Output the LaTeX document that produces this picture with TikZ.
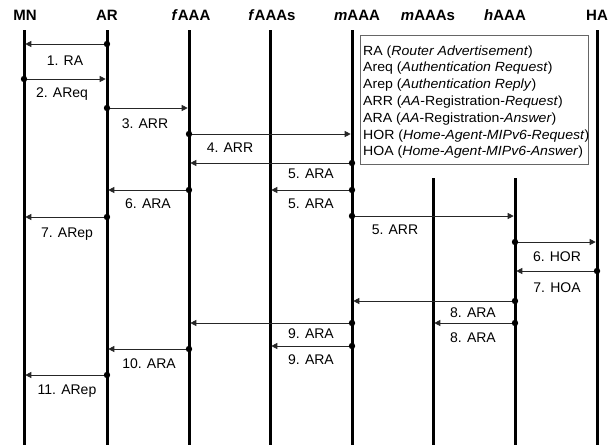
\documentclass[tikz,border=0pt]{standalone}
\usepackage{fontspec}
\setmainfont{Liberation Sans}
\newfontfamily\legfont{Liberation Sans}[FakeStretch=1.06]
\usetikzlibrary{arrows.meta}
\begin{document}
\begin{tikzpicture}[x=1pt,y=-1pt,
  life/.style={line width=3pt},
  msg/.style={line width=0.8pt,draw=black!85,-{Triangle[length=6pt,width=6pt]},shorten >=1.3pt},
  dotc/.style={fill=black},
  lbl/.style={font=\fontsize{14}{15}\selectfont,inner sep=0pt},
  hdr/.style={font=\fontsize{15}{16}\selectfont\bfseries,inner sep=0pt},
  legtext/.style={font=\legfont\fontsize{13.3}{14}\selectfont,inner sep=0pt,anchor=base west},
  legend/.style={draw=black!60,fill=white,line width=0.8pt}]
\useasboundingbox (0,0) rectangle (609,445);
% lifelines
\coordinate (MN) at (24,30);
\coordinate (AR) at (107,30);
\coordinate (fA) at (189,30);
\coordinate (fAs) at (270,30);
\coordinate (mA) at (352,30);
\coordinate (mAs) at (433,178);
\coordinate (hA) at (515,178);
\coordinate (HA) at (597,30);
\foreach \n in {MN,AR,fA,fAs,mA,mAs,hA,HA}
  \draw[life] (\n) -- (\n |- 0,445);
% headers
\node[hdr] (hMN) at (25,15) {MN};
\node[hdr] (hAR) at (107,15) {AR};
\node[hdr] (hfA) at (191,15) {\textit{f}AAA};
\node[hdr] (hfAs) at (272,15) {\textit{f}AAAs};
\node[hdr] (hmA) at (357,15) {\textit{m}AAA};
\node[hdr] (hmAs) at (428,15) {\textit{m}AAAs};
\node[hdr] (hhA) at (505,15) {\textit{h}AAA};
\node[hdr] (hHA) at (597,15) {HA};
% legend
\draw[legend] (360,35) rectangle (588,164);
\node[legtext] (leg1) at (363,55) {RA (\textit{Router Advertisement})};
\node[legtext] (leg2) at (363,71.8) {Areq (\textit{Authentication Request})};
\node[legtext] (leg3) at (363,88.6) {Arep (\textit{Authentication Reply})};
\node[legtext] (leg4) at (363,105.4) {ARR (\textit{AA}-Registration-\textit{Request})};
\node[legtext] (leg5) at (363,122.2) {ARA (\textit{AA}-Registration-\textit{Answer})};
\node[legtext] (leg6) at (363,139) {HOR (\textit{Home-Agent-MIPv6-Request})};
\node[legtext] (leg7) at (363,155.8) {HOA (\textit{Home-Agent-MIPv6-Answer})};
% messages
\foreach \s/\e/\y [count=\i] in {AR/MN/44, MN/AR/79, AR/fA/108, fA/mA/134,
  mA/fA/163, mA/fAs/190, fA/AR/190, AR/MN/217, mA/hA/216, hA/HA/242,
  HA/hA/271, hA/mA/301, hA/mAs/323, mA/fA/323, mA/fAs/346, fA/AR/349, AR/MN/375}{
  \coordinate (s\i) at (\s |- 0,\y);
  \coordinate (e\i) at (\e |- 0,\y);
  \draw[msg] (s\i) -- (e\i);
  \fill[dotc] (s\i) circle (3.2pt);
}
% labels
\node[lbl] (l1) at (65,61) {1. RA};
\node[lbl] (l2) at (62,94) {2. AReq};
\node[lbl] (l3) at (145,124) {3. ARR};
\node[lbl] (l4) at (230,148) {4. ARR};
\node[lbl] (l5a) at (311,174) {5. ARA};
\node[lbl] (l5b) at (311,204) {5. ARA};
\node[lbl] (l6) at (148,204) {6. ARA};
\node[lbl] (l7) at (67,234) {7. ARep};
\node[lbl] (l5c) at (395,230) {5. ARR};
\node[lbl] (l6h) at (557,257) {6. HOR};
\node[lbl] (l7h) at (557,288) {7. HOA};
\node[lbl] (l8a) at (473,313) {8. ARA};
\node[lbl] (l8b) at (473,338) {8. ARA};
\node[lbl] (l9a) at (311,334) {9. ARA};
\node[lbl] (l9b) at (311,360) {9. ARA};
\node[lbl] (l10) at (149,364) {10. ARA};
\node[lbl] (l11) at (67,391) {11. ARep};
\end{tikzpicture}
\end{document}
